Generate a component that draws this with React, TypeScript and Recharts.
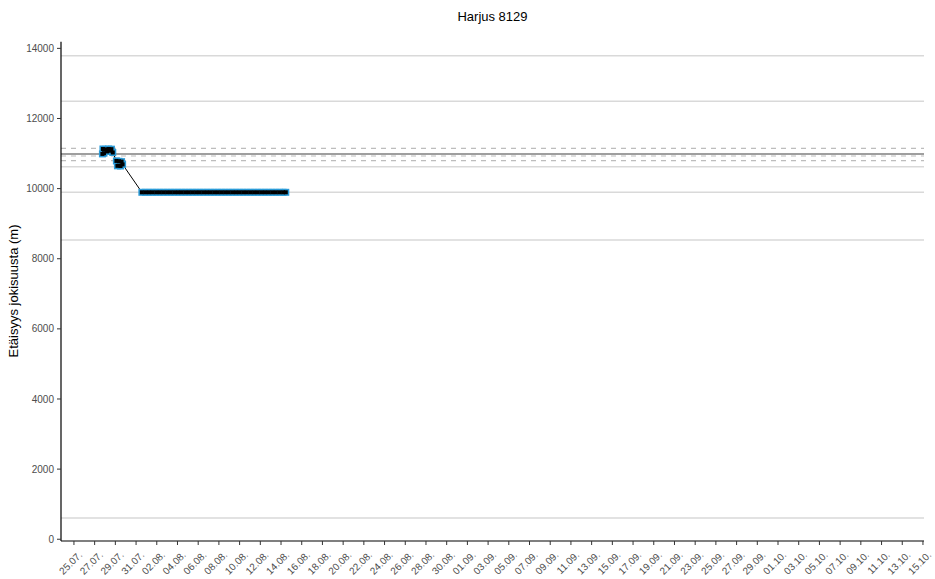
import { ComposedChart, XAxis, YAxis, Line, Scatter, ReferenceLine } from "recharts";

// days counted from 0.07. (so 25 = 25.07., 33 = 02.08., 63 = 01.09., 93 = 01.10.)
const tickDays = [
  25, 27, 29, 31, 33, 35, 37, 39, 41, 43, 45, 47, 49, 51, 53, 55, 57, 59, 61, 63, 65,
  67, 69, 71, 73, 75, 77, 79, 81, 83, 85, 87, 89, 91, 93, 95, 97, 99, 101, 103, 105, 107,
];
const tickLabels = [
  "25.07.", "27.07.", "29.07.", "31.07.", "02.08.", "04.08.", "06.08.", "08.08.", "10.08.",
  "12.08.", "14.08.", "16.08.", "18.08.", "20.08.", "22.08.", "24.08.", "26.08.", "28.08.",
  "30.08.", "01.09.", "03.09.", "05.09.", "07.09.", "09.09.", "11.09.", "13.09.", "15.09.",
  "17.09.", "19.09.", "21.09.", "23.09.", "25.09.", "27.09.", "29.09.", "01.10.", "03.10.",
  "05.10.", "07.10.", "09.10.", "11.10.", "13.10.", "15.10.",
];
const yTicks = [0, 2000, 4000, 6000, 8000, 10000, 12000, 14000];

// paikannukset
const trackDays = [
  27.75, 27.8, 27.9, 28.05, 28.2, 28.35, 28.5, 28.62, 28.75,
  29.1, 29.2, 29.35, 29.5, 29.6, 29.7,
  31.56, 31.9, 32.25, 32.6, 32.95, 33.3, 33.65, 34.0, 34.35, 34.7, 35.05, 35.4, 35.75,
  36.1, 36.45, 36.8, 37.15, 37.5, 37.85, 38.2, 38.55, 38.9, 39.25, 39.6, 39.95, 40.3,
  40.65, 41.0, 41.35, 41.7, 42.05, 42.4, 42.75, 43.1, 43.45, 43.8, 44.15, 44.5, 44.85,
  45.2, 45.46,
];
const trackDist = [
  10990, 11130, 11010, 11120, 11060, 11130, 11080, 11125, 11030,
  10790, 10650, 10780, 10645, 10770, 10690,
  9895, 9895, 9895, 9895, 9895, 9895, 9895, 9895, 9895, 9895, 9895, 9895, 9895,
  9895, 9895, 9895, 9895, 9895, 9895, 9895, 9895, 9895, 9895, 9895, 9895, 9895,
  9895, 9895, 9895, 9895, 9895, 9895, 9895, 9895, 9895, 9895, 9895, 9895, 9895,
  9895, 9895,
];

// joen kohteet
const siteLines = [13790, 12490, 10625, 9895, 8534, 607];
const releaseLine = 10990;
const rangeLines = [11150, 10930, 10796];

const data = trackDays.map((day, i) => ({ day, dist: trackDist[i] }));

const FONT = "'Liberation Sans', Arial, sans-serif";

const DateTick = (props: any) => {
  const { x, y, payload } = props;
  const i = tickDays.indexOf(payload.value);
  const tx = x + 9;
  const ty = y + 8.5;
  return (
    <text
      x={tx}
      y={ty}
      transform={`rotate(-45, ${tx}, ${ty})`}
      textAnchor="end"
      fill="#4d4d4d"
      fontSize={10}
      fontFamily={FONT}
    >
      {tickLabels[i]}
    </text>
  );
};

const outerSquare = (p: any) => (
  <rect x={p.cx - 3.5} y={p.cy - 3.5} width={7} height={7} fill="#2b9bd8" />
);
const innerSquare = (p: any) => (
  <rect x={p.cx - 2} y={p.cy - 2} width={4} height={4} fill="#000" />
);

export default function App() {
  return (
    <div style={{ position: "absolute", left: 0, top: 0, width: 935, height: 579, background: "#fff", fontFamily: FONT }}>
      <div style={{ position: "absolute", left: 0, width: 985, top: 9, textAlign: "center", fontSize: 13, color: "#000" }}>
        Harjus 8129
      </div>
      <div
        style={{
          position: "absolute",
          left: 13,
          top: 291,
          transform: "translate(-50%, -50%) rotate(-90deg)",
          whiteSpace: "nowrap",
          fontSize: 13,
          color: "#000",
        }}
      >
        Etäisyys jokisuusta (m)
      </div>
      <ComposedChart width={935} height={579} data={data} margin={{ top: 41.7, right: 11, left: 0, bottom: 0 }}>
        <XAxis
          dataKey="day"
          type="number"
          domain={[23.75, 107.1]}
          ticks={tickDays}
          interval={0}
          height={38}
          tickSize={4}
          tickMargin={2}
          tick={<DateTick />}
          axisLine={{ stroke: "#000", strokeWidth: 1.2 }}
          tickLine={{ stroke: "#333" }}
        />
        <YAxis
          type="number"
          domain={[-50, 14190]}
          ticks={yTicks}
          width={61}
          tickSize={4}
          tickMargin={3}
          tick={{ fill: "#4d4d4d", fontSize: 10, fontFamily: FONT }}
          axisLine={{ stroke: "#000", strokeWidth: 1.2 }}
          tickLine={{ stroke: "#333" }}
        />
        {siteLines.map((v) => (
          <ReferenceLine key={`s${v}`} y={v} stroke="#d9d9d9" strokeWidth={1.5} />
        ))}
        {rangeLines.map((v) => (
          <ReferenceLine key={`r${v}`} y={v} stroke="#bdbdbd" strokeWidth={1.2} strokeDasharray="5 5" />
        ))}
        <ReferenceLine y={releaseLine} stroke="#7f7f7f" strokeWidth={1.5} />
        <Scatter dataKey="dist" shape={outerSquare} isAnimationActive={false} />
        <Scatter dataKey="dist" shape={innerSquare} isAnimationActive={false} />
        <Line dataKey="dist" stroke="#000" strokeWidth={1} dot={false} isAnimationActive={false} />
      </ComposedChart>
    </div>
  );
}
